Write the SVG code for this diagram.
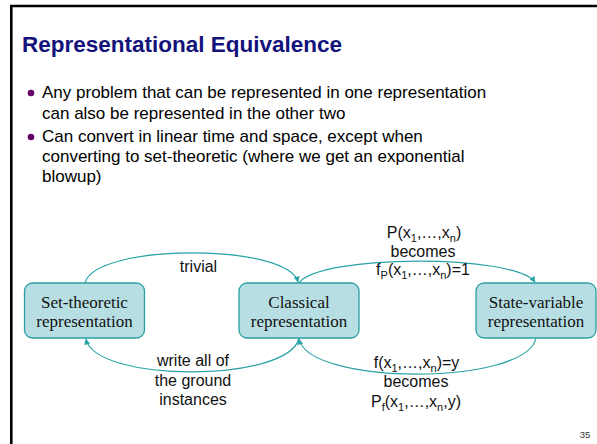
<svg xmlns="http://www.w3.org/2000/svg" width="597" height="444" viewBox="0 0 597 444">
<style>
.title{font-family:"Liberation Sans",Arial,sans-serif;font-weight:bold;font-size:22.5px;fill:#12127a}
.body{font-family:"Liberation Sans",Arial,sans-serif;font-size:17px;fill:#000}
.lbl{font-family:"Liberation Sans",Arial,sans-serif;font-size:16px;fill:#111;text-anchor:middle}
.sub{font-size:11px}
.node rect{fill:#b7dfe3;stroke:#2a9fa3;stroke-width:1.3}
.node text{font-family:"Liberation Serif","Times New Roman",serif;font-size:17px;fill:#111;text-anchor:middle}
.conn path{fill:none;stroke:#2aa3a6;stroke-width:1.2;marker-end:url(#ah)}
</style>
<defs>
<marker id="ah" viewBox="0 0 10 10" refX="9" refY="5" markerWidth="7" markerHeight="6" markerUnits="userSpaceOnUse" orient="auto">
<path d="M0,0 L10,5 L0,10 z" fill="#2aa3a6"/>
</marker>
</defs>
<rect x="0" y="0" width="597" height="444" fill="#fff"/>
<path d="M11.3,444 V6 H597" fill="none" stroke="#000" stroke-width="2.6"/>
<text class="title" x="22" y="52">Representational Equivalence</text>
<circle cx="31" cy="93" r="3.3" fill="#660066"/>
<text class="body" x="42" y="98">Any problem that can be represented in one representation</text>
<text class="body" x="42" y="118.5">can also be represented in the other two</text>
<circle cx="31" cy="137" r="3.3" fill="#660066"/>
<text class="body" x="42" y="142">Can convert in linear time and space, except when</text>
<text class="body" x="42" y="162">converting to set-theoretic (where we get an exponential</text>
<text class="body" x="42" y="182">blowup)</text>

<g class="conn">
<path d="M85,283 C95,243 288,243 298,282"/>
<path d="M299,283 C320,254 515,254 535,282"/>
<path d="M536,338 C526,386 309,386 299,339"/>
<path d="M299,338 C289,383 95,383 86,339"/>
</g>

<g id="set-theoretic" class="node">
<rect x="24.5" y="283" width="120" height="55" rx="8"/>
<text x="84.5" y="307.5">Set-theoretic</text>
<text x="84.5" y="326.5">representation</text>
</g>
<g id="classical" class="node">
<rect x="239" y="283" width="120" height="55" rx="8"/>
<text x="299" y="307.5">Classical</text>
<text x="299" y="326.5">representation</text>
</g>
<g id="state-variable" class="node">
<rect x="476" y="283" width="120" height="55" rx="8"/>
<text x="536" y="307.5">State-variable</text>
<text x="536" y="326.5">representation</text>
</g>

<text class="lbl" x="198.5" y="272">trivial</text>
<text class="lbl" x="193" y="366">write all of</text>
<text class="lbl" x="193" y="385.5">the ground</text>
<text class="lbl" x="193" y="405">instances</text>

<text class="lbl" x="424" y="238">P(x<tspan class="sub" dy="4">1</tspan><tspan dy="-4">,…,x</tspan><tspan class="sub" dy="4">n</tspan><tspan dy="-4">)</tspan></text>
<text class="lbl" x="423" y="256.5">becomes</text>
<text class="lbl" x="423" y="274.5">f<tspan class="sub" dy="4">P</tspan><tspan dy="-4">(x</tspan><tspan class="sub" dy="4">1</tspan><tspan dy="-4">,…,x</tspan><tspan class="sub" dy="4">n</tspan><tspan dy="-4">)=1</tspan></text>

<text class="lbl" x="416.5" y="368">f(x<tspan class="sub" dy="4">1</tspan><tspan dy="-4">,…,x</tspan><tspan class="sub" dy="4">n</tspan><tspan dy="-4">)=y</tspan></text>
<text class="lbl" x="416" y="387">becomes</text>
<text class="lbl" x="416" y="407">P<tspan class="sub" dy="4">f</tspan><tspan dy="-4">(x</tspan><tspan class="sub" dy="4">1</tspan><tspan dy="-4">,…,x</tspan><tspan class="sub" dy="4">n</tspan><tspan dy="-4">,y)</tspan></text>

<text x="585" y="438" font-family="'Liberation Sans',Arial,sans-serif" font-size="9.5" fill="#333" text-anchor="middle">35</text>
</svg>
